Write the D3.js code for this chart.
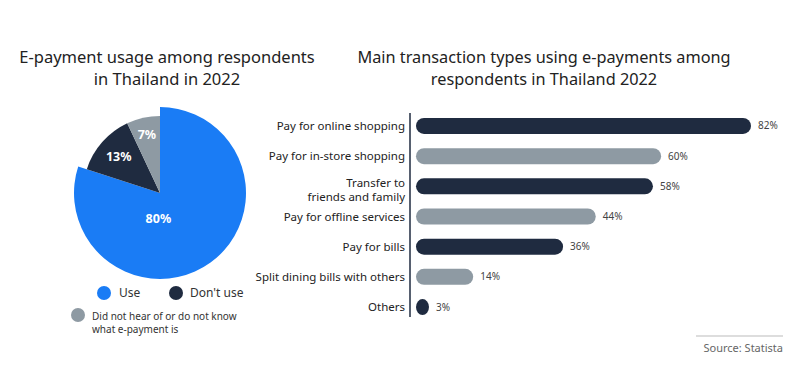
<!DOCTYPE html>
<html>
<head>
<meta charset="utf-8">
<script src="https://cdn.jsdelivr.net/npm/d3@7"></script>
<style>
  body { margin: 0; background: #fff; }
  svg text { font-family: "Noto Sans", "Open Sans", sans-serif; }
</style>
</head>
<body>
<div id="chart"></div>
<script>
// pie data
var pieLabels = ["Use", "Don't use", "Did not hear of or do not know what e-payment is"];
var pieValues = [80, 13, 7];
var pieColors = ["#1a7cf5", "#1f2b40", "#8e9aa3"];

// bar data
var barLabels = [["Pay for online shopping"], ["Pay for in-store shopping"], ["Transfer to", "friends and family"],
    ["Pay for offline services"], ["Pay for bills"], ["Split dining bills with others"], ["Others"]];
var barValues = [82, 60, 58, 44, 36, 14, 3];
var barColors = ["#1f2b40", "#8e9aa3"];

var width = 792, height = 376;

var svg = d3.select("#chart").append("svg")
    .attr("width", width)
    .attr("height", height);

// ---------- left: pie ----------
var leftTitle = svg.append("text")
    .attr("x", 167)
    .attr("y", 63)
    .attr("text-anchor", "middle")
    .style("font-size", "16.5px")
    .style("fill", "#222");
leftTitle.append("tspan").attr("x", 167).text("E-payment usage among respondents");
leftTitle.append("tspan").attr("x", 167).attr("dy", 22).text("in Thailand in 2022");

var pieG = svg.append("g")
    .attr("transform", "translate(160,193)");

var pie = d3.pie().sort(null).value(function(d) { return d; });
var arcs = pie(pieValues);
var rOuter = [86, 77, 77];
// label placement (radius, angle in radians from 12 o'clock)
var labelR = [26, 55, 60];
var labelA = [Math.PI * 1.02, null, null];

pieG.selectAll(".slice")
    .data(arcs)
    .enter().append("path")
    .attr("class", "slice")
    .attr("d", function(d, i) { return d3.arc().innerRadius(0).outerRadius(rOuter[i])(d); })
    .style("fill", function(d, i) { return pieColors[i]; });

pieG.selectAll(".slice-label")
    .data(arcs)
    .enter().append("text")
    .attr("class", "slice-label")
    .attr("transform", function(d, i) {
        var a = labelA[i] !== null ? labelA[i] : (d.startAngle + d.endAngle) / 2;
        return "translate(" + (labelR[i] * Math.sin(a)) + "," + (-labelR[i] * Math.cos(a)) + ")";
    })
    .attr("text-anchor", "middle")
    .attr("dy", "0.35em")
    .style("font-size", "12.5px")
    .style("font-weight", "bold")
    .style("fill", "#fff")
    .text(function(d) { return d.data + "%"; });

// legend
var legend = svg.append("g");
legend.append("circle").attr("cx", 104).attr("cy", 293).attr("r", 7).style("fill", pieColors[0]);
legend.append("text").attr("x", 119).attr("y", 293).attr("dy", "0.35em")
    .style("font-size", "12px").style("fill", "#333").text(pieLabels[0]);
legend.append("circle").attr("cx", 176).attr("cy", 293).attr("r", 7).style("fill", pieColors[1]);
legend.append("text").attr("x", 190).attr("y", 293).attr("dy", "0.35em")
    .style("font-size", "12px").style("fill", "#333").text(pieLabels[1]);
legend.append("circle").attr("cx", 78).attr("cy", 315).attr("r", 7).style("fill", pieColors[2]);
var lt = legend.append("text").attr("x", 92).attr("y", 320)
    .style("font-size", "10px").style("fill", "#333");
lt.append("tspan").attr("x", 92).text("Did not hear of or do not know");
lt.append("tspan").attr("x", 92).attr("dy", 12.5).text("what e-payment is");

// ---------- right: bars ----------
var rightTitle = svg.append("text")
    .attr("x", 544)
    .attr("y", 63)
    .attr("text-anchor", "middle")
    .style("font-size", "16.3px")
    .style("fill", "#222");
rightTitle.append("tspan").attr("x", 544).text("Main transaction types using e-payments among");
rightTitle.append("tspan").attr("x", 544).attr("dy", 22).text("respondents in Thailand 2022");

var x = d3.scaleLinear().domain([0, 82]).range([416, 751]);
var y = d3.scaleBand().domain(d3.range(barValues.length)).range([111, 322]).paddingInner(0.45).paddingOuter(0.22);
var barH = 16;

// axis line
svg.append("line")
    .attr("x1", 410).attr("x2", 410)
    .attr("y1", 113).attr("y2", 317)
    .style("stroke", "#1f2b40")
    .style("stroke-width", 1.5);

svg.selectAll(".bar")
    .data(barValues)
    .enter().append("rect")
    .attr("class", "bar")
    .attr("x", x(0))
    .attr("y", function(d, i) { return y(i) + y.bandwidth() / 2 - barH / 2; })
    .attr("width", function(d) { return Math.max(x(d) - x(0), 13); })
    .attr("height", barH)
    .attr("rx", 8)
    .style("fill", function(d, i) { return barColors[i % 2]; });

svg.selectAll(".bar-value")
    .data(barValues)
    .enter().append("text")
    .attr("class", "bar-value")
    .attr("x", function(d) { return x(0) + Math.max(x(d) - x(0), 13) + 7; })
    .attr("y", function(d, i) { return y(i) + y.bandwidth() / 2; })
    .attr("dy", "0.35em")
    .style("font-size", "10px")
    .style("fill", "#444")
    .text(function(d) { return d + "%"; });

svg.selectAll(".bar-label")
    .data(barLabels)
    .enter().append("text")
    .attr("class", "bar-label")
    .attr("text-anchor", "end")
    .attr("y", function(d, i) { return y(i) + y.bandwidth() / 2 - (d.length - 1) * 3.5; })
    .style("font-size", "11.5px")
    .style("fill", "#222")
    .each(function(d) {
        var t = d3.select(this);
        d.forEach(function(line, j) {
            t.append("tspan").attr("x", 405).attr("dy", j === 0 ? "0.35em" : 14).text(line);
        });
    });

// source
svg.append("line")
    .attr("x1", 696).attr("x2", 783)
    .attr("y1", 336).attr("y2", 336)
    .style("stroke", "#bbb");
svg.append("text")
    .attr("x", 783).attr("y", 348)
    .attr("text-anchor", "end")
    .attr("dy", "0.35em")
    .style("font-size", "11px")
    .style("fill", "#666")
    .text("Source: Statista");
</script>
</body>
</html>
